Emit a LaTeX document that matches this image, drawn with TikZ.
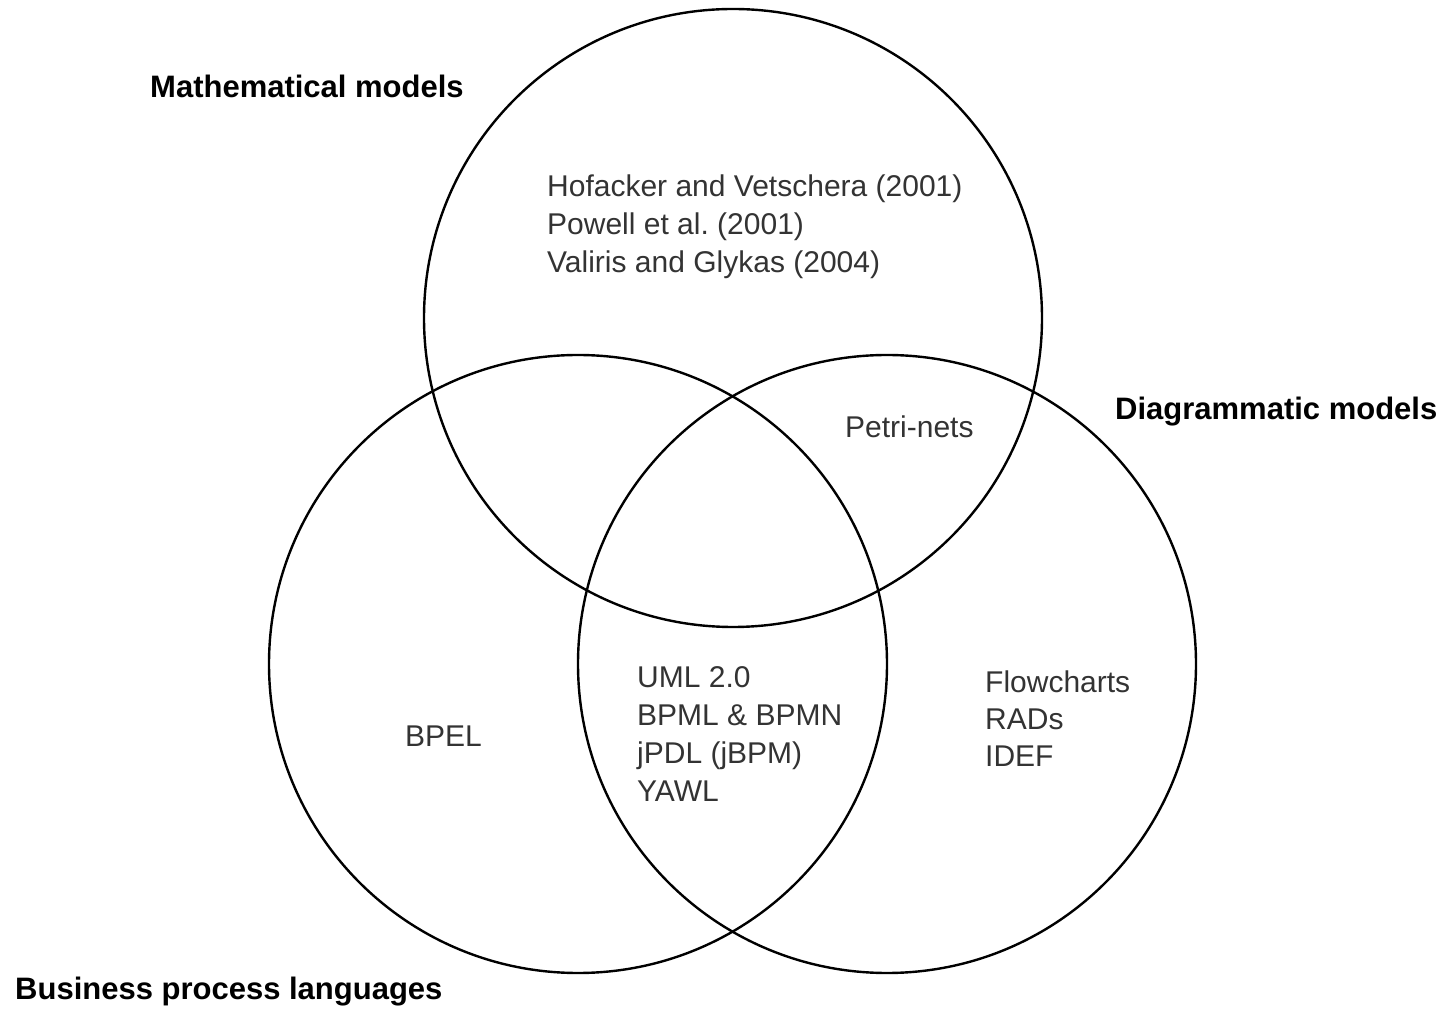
\documentclass[tikz,border=0pt]{standalone}
\usepackage{fontspec}
\setmainfont{Liberation Sans}
\usepackage{tikz}
\usetikzlibrary{positioning}
\tikzset{venn/.style={draw,circle,line width=2.4pt,minimum size=618pt,inner sep=0pt}}
\tikzset{setname/.style={font=\fontsize{31}{37}\selectfont\bfseries,anchor=base west,inner sep=0pt}}
\tikzset{entry/.style={font=\fontsize{30}{37}\selectfont,text=black!80,anchor=base west,inner sep=0pt}}
\frenchspacing

\begin{document}
\begin{tikzpicture}[x=1pt,y=1pt]
                \useasboundingbox (0,0) rectangle (1444,1010);
                \node[venn] (math) at (733,692) {};
                \node[venn] (bpl) at (578,346) {};
                \node[venn] (diag) at (887,346) {};
                \node[setname] (mathname) at (150,912) {Mathematical models};
                \node[setname] (diagname) at (1115,590) {Diagrammatic models};
                \node[setname] (bplname) at (15,10) {Business process languages};
                % top circle only
                \node[entry] (hof) at (547,813) {Hofacker and Vetschera (2001)};
                \node[entry] (pow) at ([yshift=-38pt]hof.base west) {Powell et al. (2001)};
                \node[entry] (val) at ([yshift=-38pt]pow.base west) {Valiris and Glykas (2004)};
                \node[entry] (petri) at (845,572) {Petri-nets};
                \node[entry] (bpel) at (405,263) {BPEL};
                % middle of the two lower circles
                \node[entry] (uml) at (637,322) {UML 2.0};
                \node[entry] (bpml) at ([yshift=-38pt]uml.base west) {BPML \& BPMN};
                \node[entry] (jpdl) at ([yshift=-38pt]bpml.base west) {jPDL (jBPM)};
                \node[entry] (yawl) at ([yshift=-38pt]jpdl.base west) {YAWL};
                \node[entry] (flow) at (985,317) {Flowcharts};
                \node[entry] (rads) at ([yshift=-37pt]flow.base west) {RADs};
                \node[entry] (idef) at ([yshift=-37pt]rads.base west) {IDEF};
\end{tikzpicture}
\end{document}
